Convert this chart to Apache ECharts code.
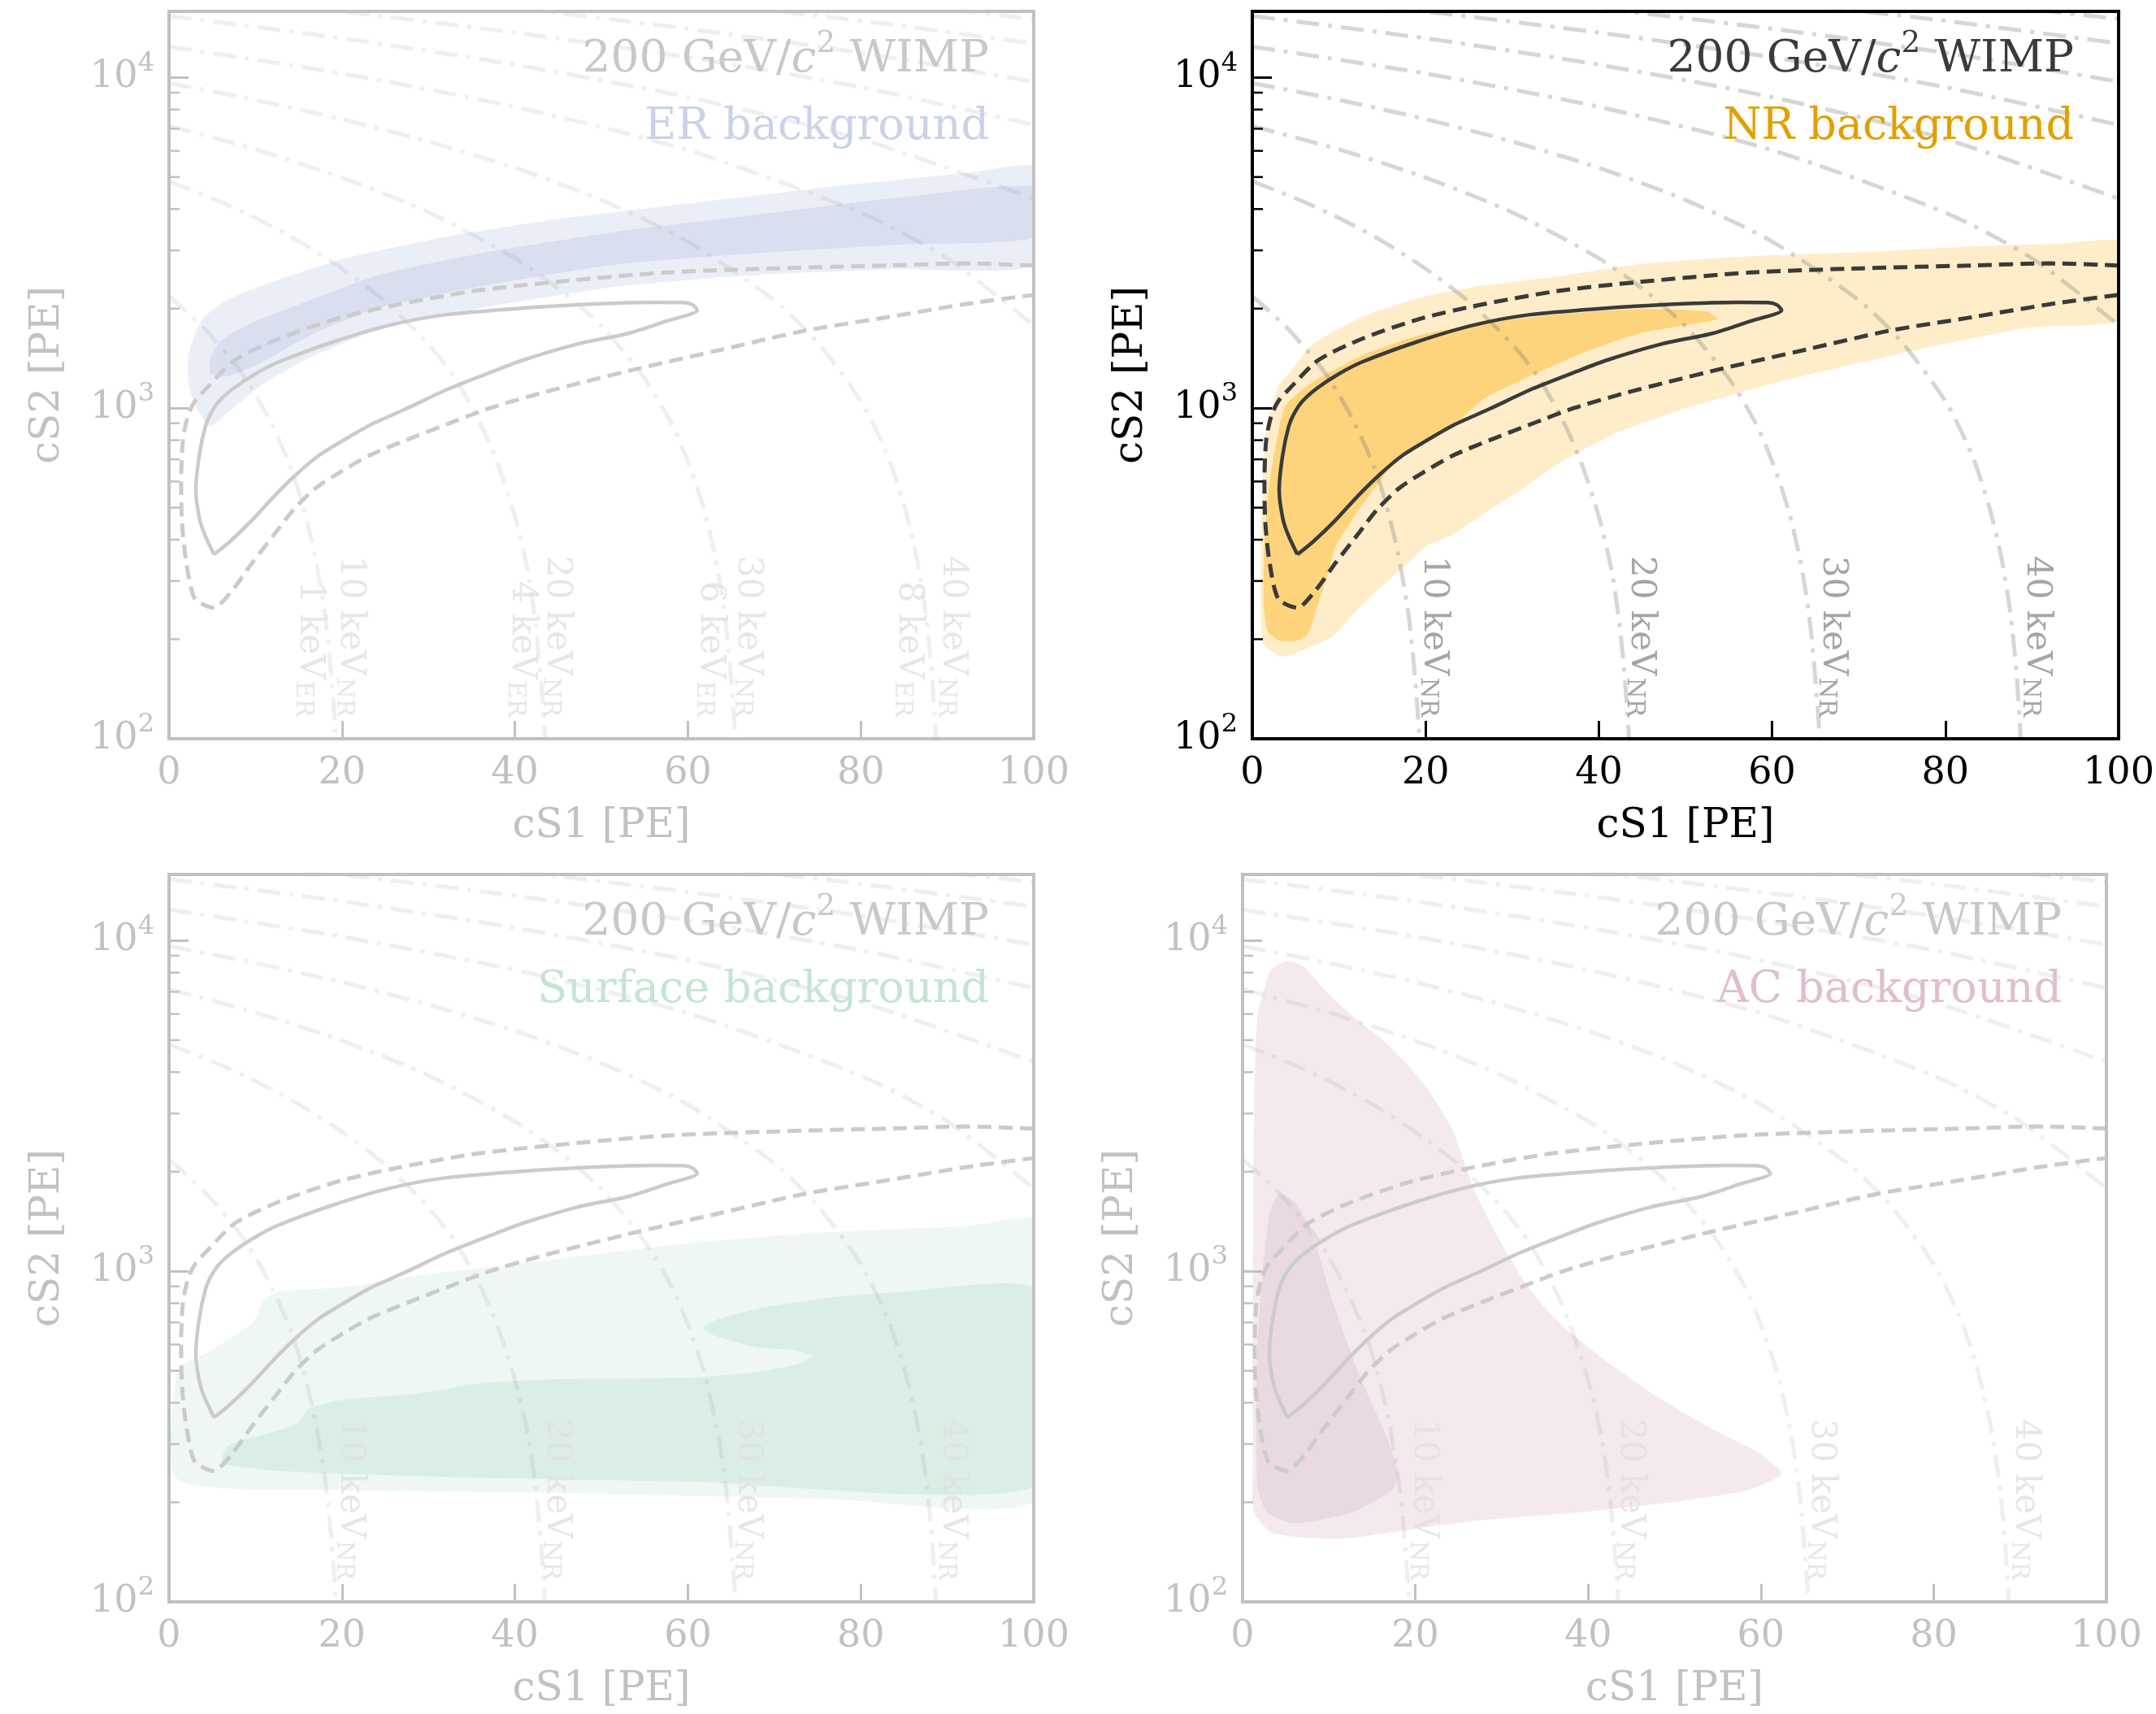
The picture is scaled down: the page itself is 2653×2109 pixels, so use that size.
<!DOCTYPE html>
<html>
<head>
<meta charset="utf-8">
<script src="https://cdn.jsdelivr.net/npm/echarts@6/dist/echarts.min.js"></script>
<style>
  html, body { margin: 0; padding: 0; background: #fff; }
  #chart { width: 2653px; height: 2109px; }
</style>
</head>
<body>
<div id="chart"></div>
<script>
  var FONT = 'DejaVu Serif';

  // ---- data, all points are [cS1 (PE), cS2 (PE)] ----
  // constant energy lines (keV_NR)
  var e10 = [[0, 2180], [4, 1750], [8, 1320], [10, 1100], [12, 880], [14, 670], [15, 560], [16, 450], [17, 345], [18, 240], [18.5, 185], [19, 130], [19.4, 90]];
  var e20 = [[0, 4850], [5, 4310], [10, 3760], [15, 3200], [20, 2640], [25, 2100], [30, 1560], [33, 1240], [36, 900], [38, 680], [40, 470], [41.5, 320], [42.5, 210], [43.2, 130], [43.6, 90]];
  var e30 = [[0, 7130], [10, 6060], [20, 4980], [30, 3910], [40, 2840], [45, 2300], [50, 1770], [55, 1230], [58, 910], [60, 690], [62, 480], [63.5, 320], [64.5, 210], [65.3, 120], [65.6, 90]];
  var e40 = [[0, 9620], [10, 8550], [20, 7480], [30, 6400], [40, 5330], [50, 4260], [60, 3190], [70, 2120], [75, 1580], [80, 1050], [83, 730], [85, 510], [86.5, 350], [87.5, 240], [88.2, 160], [88.7, 100], [88.9, 85]];
  var e50 = [[0, 12400], [20, 10280], [40, 8150], [60, 6030], [80, 3900], [90, 2840], [100, 1780]];
  var e60 = [[0, 15350], [20, 13140], [40, 10930], [60, 8720], [80, 6510], [100, 4300]];
  var e70 = [[0, 17990], [20, 15830], [40, 13670], [60, 11510], [80, 9350], [100, 7190]];
  var e80 = [[20, 18360], [40, 16200], [60, 14040], [80, 11880], [100, 9720]];
  var e90 = [[40, 19160], [60, 17000], [80, 14840], [100, 12680]];
  var e100 = [[60, 19350], [80, 17190], [100, 15030]];
  var energyLines = [e10, e20, e30, e40, e50, e60, e70, e80, e90, e100];

  var nrLabels = ['10', '20', '30', '40'];
  var erLabels = ['1', '4', '6', '8'];

  // 200 GeV WIMP signal contours
  var wimpSolid = [[5.2, 361], [4.1, 416], [3.5, 466], [3.1, 565], [3.5, 720], [4.2, 880], [4.8, 960], [5.8, 1050], [7.5, 1150], [10.0, 1270], [12.7, 1380], [19.1, 1590], [25.5, 1782], [31.9, 1915], [39.6, 1995], [48.6, 2062], [56.3, 2090], [59.5, 2085], [60.6, 2050], [61.1, 1977], [57.5, 1833], [53.1, 1683], [47.3, 1564], [40.9, 1396], [37.4, 1290], [32.2, 1140], [27.4, 995], [23.2, 888], [19.9, 792], [17.35, 720], [14.8, 633], [12.2, 543], [9.6, 458], [7.0, 394], [5.2, 361]];
  var wimpDashed = [[100, 2700], [92, 2740], [83, 2700], [70.4, 2648], [57.5, 2572], [44.7, 2408], [35.1, 2258], [25.5, 2033], [19.1, 1854], [12.7, 1622], [7.6, 1396], [4.4, 1153], [3.0, 1050], [2.2, 950], [1.6, 800], [1.4, 600], [1.5, 450], [2.0, 340], [3.0, 265], [5.2, 249], [7.3, 281], [9.6, 340], [12.2, 416], [14.4, 493], [17.0, 574], [19.9, 643], [23.2, 720], [27.4, 800], [32.2, 895], [37.1, 1000], [43, 1110], [48, 1200], [54.3, 1318], [63.9, 1503], [73.5, 1714], [83.1, 1884], [92.7, 2075], [100, 2200]];

  // backgrounds
  var erOuter = [[4.8, 883], [3.2, 1000], [2.3, 1177], [2.3, 1479], [3.9, 1862], [6.8, 2128], [12.3, 2432], [20.3, 2833], [32.2, 3303], [44.2, 3705], [60.1, 4160], [76.1, 4660], [92, 5130], [100.5, 5340], [100.5, 2729], [84, 2630], [68.1, 2530], [52.2, 2340], [36.2, 2010], [24.3, 1726], [16.3, 1422], [10.7, 1175], [6.8, 970]];
  var erInner = [[4.8, 1268], [4.8, 1422], [6.0, 1600], [9.2, 1790], [14.0, 2010], [24.3, 2530], [36.2, 2944], [52.2, 3430], [68.1, 3850], [84, 4315], [100.5, 4660], [100.5, 3303], [84, 3120], [68.1, 2944], [52.2, 2729], [36.2, 2340], [24.3, 2010], [16.3, 1660], [10.7, 1374], [6.8, 1247]];

  var nrOuter = [[3.1, 178], [1.3, 193], [1.0, 232], [1.0, 400], [1.2, 600], [1.6, 868], [3.1, 1176], [4.4, 1288], [7.0, 1563], [12.7, 1884], [19.1, 2149], [25.5, 2323], [35.1, 2500], [44.7, 2723], [57.5, 2880], [70.4, 2963], [83.2, 3084], [92.7, 3135], [100.5, 3170], [100.5, 1867], [89.5, 1750], [76.8, 1503], [67.2, 1318], [60, 1190], [55, 1090], [50, 1000], [41.9, 839], [35.4, 681], [31.0, 565], [27.4, 493], [23.2, 416], [19.9, 380], [18.0, 340], [14.4, 281], [11.9, 242], [9.3, 204], [6.4, 188], [4.1, 178]];
  var nrInner = [[1.3, 256], [1.36, 372], [1.8, 543], [2.5, 720], [3.8, 1012], [7.0, 1199], [12.7, 1445], [19.1, 1656], [25.5, 1782], [35.1, 1918], [44.7, 1995], [52.4, 1960], [53.7, 1862], [51.1, 1800], [44.7, 1683], [38.4, 1479], [32.0, 1247], [26.8, 1070], [23.2, 888], [19.9, 807], [16.7, 693], [14.1, 574], [11.9, 476], [9.6, 380], [8.6, 308], [7.3, 242], [6.4, 207], [5.1, 198], [3.1, 198], [1.8, 211]];

  var surfOuter = [[1.0, 235], [1.0, 506], [4.4, 566], [7.5, 636], [10.0, 713], [10.7, 800], [12.3, 863], [20.3, 896], [28.3, 966], [44.2, 1083], [60.1, 1215], [76.1, 1312], [92, 1365], [100.5, 1406], [100.5, 206], [76, 205], [44.2, 214], [20.3, 218]];
  var surfInner = [[6.0, 263], [6.8, 297], [10.7, 319], [14.7, 345], [16.3, 386], [20.3, 409], [28.3, 425], [36.2, 459], [44.2, 471], [60.1, 476], [68.1, 496], [72.9, 525], [74.5, 555], [72.1, 578], [68.1, 588], [63.3, 636], [61.7, 673], [63.3, 713], [68.1, 771], [76.1, 830], [84, 863], [100.5, 877], [100.5, 226], [60.1, 231], [28.3, 240], [12.3, 249], [6.8, 259]];

  var acOuter = [[5.1, 8690], [3.2, 8070], [1.7, 5820], [1.3, 2710], [1.2, 863], [1.2, 274], [1.3, 187], [3.6, 161], [11.2, 155], [20.4, 167], [28, 177], [39.5, 187], [50.9, 202], [58.6, 218], [62.4, 244], [59.5, 285], [54.5, 332], [48, 417], [42.5, 525], [37, 685], [33.5, 863], [30.3, 1172], [27, 1715], [24.2, 2710], [21, 3680], [17, 4810], [12.3, 6050], [9, 7330], [7, 8370]];
  var acInner = [[4.3, 1715], [3.2, 1528], [2.4, 1043], [1.7, 589], [1.7, 226], [2.8, 187], [5.9, 173], [12.8, 187], [17.3, 218], [18, 244], [16.6, 319], [13.5, 486], [10.5, 800], [8.2, 1265], [6.3, 1590]];

  var yMinorTicks = [200, 300, 400, 500, 600, 700, 800, 900, 2000, 3000, 4000, 5000, 6000, 7000, 8000, 9000];

  // ---- panels ----
  var panels = [
    { left: 208, top: 14, width: 1064, height: 895, dark: false, bgText: 'ER background', bgColor: '#c9d2e9',
      fills: [[erOuter, '#eaeef7'], [erInner, '#d9dfee']], er: true },
    { left: 1541, top: 14, width: 1066, height: 895, dark: true, bgText: 'NR background', bgColor: '#e0a000',
      fills: [[nrOuter, '#feedc8'], [nrInner, '#fdd47c']] },
    { left: 208, top: 1076, width: 1064, height: 895, dark: false, bgText: 'Surface background', bgColor: '#c3e5d3',
      fills: [[surfOuter, '#eef7f2'], [surfInner, '#dbeee5']] },
    { left: 1529, top: 1076, width: 1063, height: 895, dark: false, bgText: 'AC background', bgColor: '#e0bdd0',
      fills: [[acOuter, '#f4e9ef'], [acInner, '#e9d9e2']] }
  ];
  var nrLabelX = [21, 44.9, 67, 90.6];
  var erLabelX = [16.3, 40.8, 62.6, 85.6];
  var labelY = 116;

  function theme(p) {
    return p.dark ? {
      axis: '#000000', text: '#000000', contour: '#3a3a3a', eline: 'rgba(120,120,120,0.3)',
      elabel: '#8e8e8e', wimp: '#3a3a3a'
    } : {
      axis: '#c1c1c1', text: '#c1c1c1', contour: '#cbcbcb', eline: 'rgba(120,120,120,0.12)',
      elabel: '#e0e0e0', wimp: '#c8c8c8'
    };
  }

  var grids = [], xAxes = [], yAxes = [], series = [], graphics = [];

  panels.forEach(function (p, i) {
    var t = theme(p);
    grids.push({
      left: p.left, top: p.top, width: p.width, height: p.height,
      show: true, borderColor: t.axis, borderWidth: 4, backgroundColor: 'transparent',
      z: 6, outerBoundsMode: 'none', containLabel: false
    });
    xAxes.push({
      gridIndex: i, type: 'value', min: 0, max: 100, interval: 20, z: 6,
      axisLine: { show: false },
      axisTick: { show: true, inside: true, length: 22, lineStyle: { color: t.axis, width: 3 } },
      axisLabel: { color: t.text, fontSize: 46, fontFamily: FONT, margin: 20 },
      splitLine: { show: false },
      name: 'cS1 [PE]', nameLocation: 'middle', nameGap: 83,
      nameTextStyle: { color: t.text, fontSize: 50, fontFamily: FONT }
    });
    yAxes.push({
      gridIndex: i, type: 'log', logBase: 10, min: 100, max: 15849, z: 6,
      axisLine: { show: false },
      axisTick: { show: true, inside: true, length: 24, lineStyle: { color: t.axis, width: 3 } },
      axisLabel: {
        color: t.text, margin: 18, showMaxLabel: false,
        formatter: function (v) { return '{b|10}{s|' + Math.round(Math.log10(v)) + '}'; },
        rich: {
          b: { fontSize: 46, fontFamily: FONT, color: t.text },
          s: { fontSize: 32, fontFamily: FONT, color: t.text, lineHeight: 32, padding: [0, 0, 34, 0] }
        }
      },
      splitLine: { show: false },
      name: 'cS2 [PE]', nameLocation: 'middle', nameGap: 124,
      nameTextStyle: { color: t.text, fontSize: 50, fontFamily: FONT }
    });

    // filled background regions
    p.fills.forEach(function (f) {
      var pts = f[0];
      series.push({
        type: 'custom', xAxisIndex: i, yAxisIndex: i, clip: true, silent: true, z: 1,
        data: pts,
        renderItem: function (params, api) {
          if (params.dataIndex !== 0) return null;
          return {
            type: 'polygon',
            shape: { points: pts.map(function (q) { return api.coord(q); }), smooth: 0.2 },
            style: { fill: f[1] }
          };
        }
      });
    });

    // constant energy lines
    energyLines.forEach(function (ln) {
      series.push({
        type: 'line', xAxisIndex: i, yAxisIndex: i, data: ln, symbol: 'none', smooth: 0.25,
        silent: true, clip: true, z: 2,
        lineStyle: { color: t.eline, width: 5, type: [28, 11, 5, 11], cap: 'butt' }
      });
    });

    // WIMP contours
    series.push({
      type: 'line', xAxisIndex: i, yAxisIndex: i, data: wimpDashed, symbol: 'none', smooth: 0.25,
      silent: true, clip: true, z: 3,
      lineStyle: { color: t.contour, width: 5, type: [17, 9], cap: 'butt' }
    });
    series.push({
      type: 'line', xAxisIndex: i, yAxisIndex: i, data: wimpSolid, symbol: 'none', smooth: 0.25,
      silent: true, clip: true, z: 3,
      lineStyle: { color: t.contour, width: 4.5 }
    });

    // energy labels
    var labData = nrLabels.map(function (s, k) {
      return { name: s + '|NR', value: [nrLabelX[k], labelY] };
    });
    if (p.er) {
      erLabels.forEach(function (s, k) {
        labData.push({ name: s + '|ER', value: [erLabelX[k], labelY] });
      });
    }
    series.push({
      type: 'scatter', xAxisIndex: i, yAxisIndex: i, symbolSize: 1, silent: true, z: 4,
      itemStyle: { color: 'transparent' },
      data: labData,
      label: {
        show: true, position: [0, 0], rotate: -90, align: 'right', verticalAlign: 'middle',
        formatter: function (d) {
          var parts = d.name.split('|');
          return '{a|' + parts[0] + ' keV}{s|' + parts[1] + '}';
        },
        rich: {
          a: { fontSize: 42, fontFamily: FONT, color: t.elabel },
          s: { fontSize: 30, fontFamily: FONT, color: t.elabel, lineHeight: 30, padding: [16, 0, 0, 2] }
        }
      }
    });

    // minor ticks on the log axis
    series.push({
      type: 'custom', xAxisIndex: i, yAxisIndex: i, silent: true, z: 6,
      data: yMinorTicks.map(function (v) { return [0, v]; }),
      renderItem: function (params, api) {
        var c = api.coord([api.value(0), api.value(1)]);
        return {
          type: 'line',
          shape: { x1: c[0], y1: c[1], x2: c[0] + 13, y2: c[1] },
          style: { stroke: t.axis, lineWidth: 2.5 }
        };
      }
    });

    // annotations
    var rx = p.left + p.width - 55;
    graphics.push({
      type: 'text', x: rx, y: p.top + 60, z: 10,
      style: {
        text: '{n|200 GeV/}{i|c}{s|2}{n| WIMP}',
        align: 'right', verticalAlign: 'middle',
        rich: {
          n: { fontSize: 55, fontFamily: FONT, fill: t.wimp },
          i: { fontSize: 55, fontFamily: FONT, fontStyle: 'italic', fill: t.wimp },
          s: { fontSize: 37, fontFamily: FONT, fill: t.wimp, lineHeight: 37, padding: [0, 0, 40, 0] }
        }
      }
    });
    graphics.push({
      type: 'text', x: rx, y: p.top + 143, z: 10,
      style: {
        text: p.bgText, align: 'right', verticalAlign: 'middle',
        fontSize: 54, fontFamily: FONT, fill: p.bgColor
      }
    });
  });

  var chart = echarts.init(document.getElementById('chart'));
  chart.setOption({
    animation: false,
    backgroundColor: '#ffffff',
    textStyle: { fontFamily: FONT },
    grid: grids,
    xAxis: xAxes,
    yAxis: yAxes,
    series: series,
    graphic: graphics
  });
</script>
</body>
</html>
